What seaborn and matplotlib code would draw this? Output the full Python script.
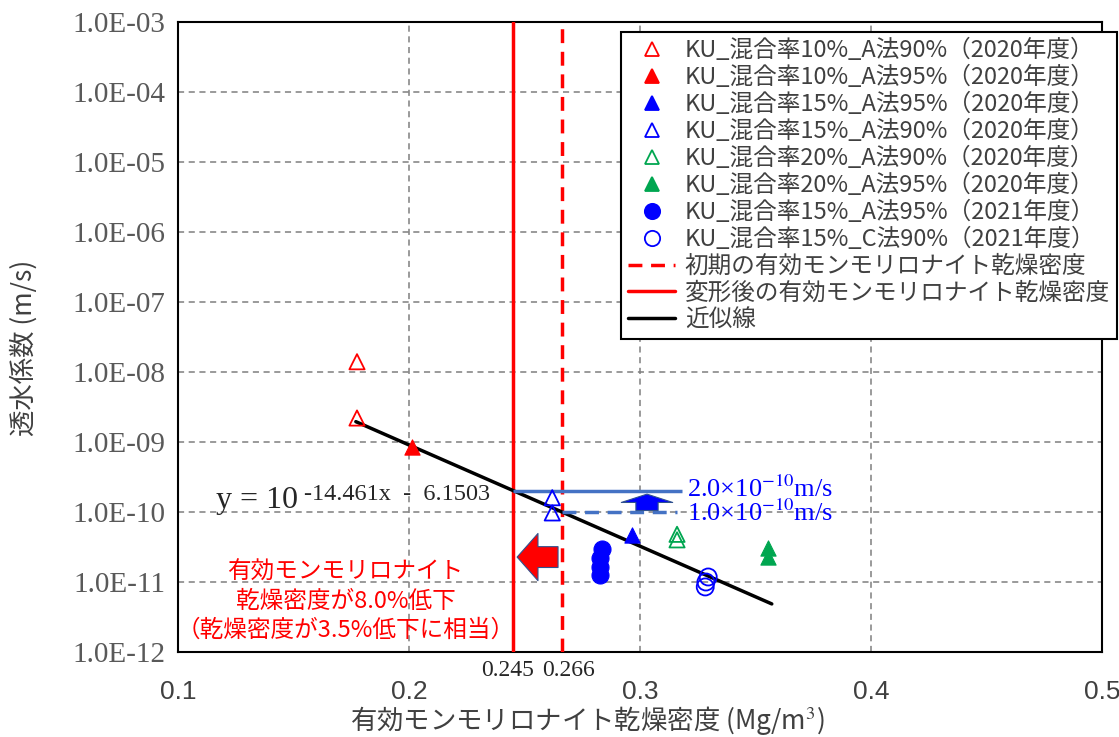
import numpy as np
import pandas as pd
import matplotlib
matplotlib.use("Agg")
import matplotlib.pyplot as plt
import matplotlib.ticker as mticker
import seaborn as sns

# --- data ---
red_open_x = [0.1775, 0.1775]
red_open_y = [1.4e-8, 2.2e-9]
red_fill_x = [0.2013]
red_fill_y = [8.5e-10]
blue_tri_fill_x = [0.2965]
blue_tri_fill_y = [4.7e-11]
blue_tri_open_x = [0.262, 0.262]
blue_tri_open_y = [1.6e-10, 9.7e-11]
green_open_x = [0.316, 0.316]
green_open_y = [4.8e-11, 4.0e-11]
green_fill_x = [0.3555, 0.3555]
green_fill_y = [3.1e-11, 2.3e-11]
blue_circ_fill_x = [0.2835, 0.2828, 0.2825, 0.2828]
blue_circ_fill_y = [3.0e-11, 2.2e-11, 1.65e-11, 1.27e-11]
blue_circ_open_x = [0.3295, 0.3285, 0.3282]
blue_circ_open_y = [1.18e-11, 1.0e-11, 8.5e-12]

labels = [
    "KU_混合率10%_A法90%（2020年度）",
    "KU_混合率10%_A法95%（2020年度）",
    "KU_混合率15%_A法95%（2020年度）",
    "KU_混合率15%_A法90%（2020年度）",
    "KU_混合率20%_A法90%（2020年度）",
    "KU_混合率20%_A法95%（2020年度）",
    "KU_混合率15%_A法95%（2021年度）",
    "KU_混合率15%_C法90%（2021年度）",
]

rho_initial = 0.266
rho_deformed = 0.245
k_upper = 2.0e-10
k_lower = 1.0e-10
fit_a, fit_b = -14.461, -6.1503
fit_x = [0.177, 0.357]

RED = "#FF0000"
BLUE = "#0000FF"
GREEN = "#00A650"
LBLUE = "#4472C4"
SERIF = "Liberation Serif"

series = [
    (red_open_x, red_open_y, "^", RED, False),
    (red_fill_x, red_fill_y, "^", RED, True),
    (blue_tri_fill_x, blue_tri_fill_y, "^", BLUE, True),
    (blue_tri_open_x, blue_tri_open_y, "^", BLUE, False),
    (green_open_x, green_open_y, "^", GREEN, False),
    (green_fill_x, green_fill_y, "^", GREEN, True),
    (blue_circ_fill_x, blue_circ_fill_y, "o", BLUE, True),
    (blue_circ_open_x, blue_circ_open_y, "o", BLUE, False),
]

sns.set_theme(style="white")
plt.rcParams["font.family"] = ["Noto Sans CJK JP", "DejaVu Sans"]
plt.rcParams["mathtext.fontset"] = "stix"

fig = plt.figure(figsize=(11.19, 7.37), dpi=100)
ax = fig.add_axes([0.159, 0.1153, 0.826, 0.855])

handles = []
for (xs, ys, mk, col, filled), lab in zip(series, labels):
    df = pd.DataFrame({"x": xs, "y": ys})
    size = 150 if mk == "o" else 120
    if filled:
        sns.scatterplot(data=df, x="x", y="y", ax=ax, marker=mk, s=size,
                        color=col, edgecolor=col, linewidth=0.8, zorder=5)
    else:
        sns.scatterplot(data=df, x="x", y="y", ax=ax, marker=mk, s=size,
                        facecolor="none", edgecolor=col, linewidth=1.3, zorder=5)
    h = plt.Line2D([], [], ls="none", marker=mk, markersize=11 if mk == "o" else 10,
                   markerfacecolor=col if filled else "none", markeredgecolor=col,
                   markeredgewidth=1.3)
    handles.append(h)

# density lines
ax.axvline(rho_initial, color=RED, lw=2.5, ls=(0, (4, 2.5)), zorder=3)
ax.axvline(rho_deformed, color=RED, lw=2.5, zorder=3)

# fit line
fit_df = pd.DataFrame({"x": fit_x})
fit_df["y"] = 10 ** (fit_a * fit_df["x"] + fit_b)
sns.lineplot(data=fit_df, x="x", y="y", ax=ax, color="black", lw=2.5, zorder=4)
handles += [plt.Line2D([], [], color=RED, lw=2.5, ls=(0, (4, 2.5))),
            plt.Line2D([], [], color=RED, lw=2.5),
            plt.Line2D([], [], color="black", lw=2.5)]
labels_all = labels + ["初期の有効モンモリロナイト乾燥密度",
                       "変形後の有効モンモリロナイト乾燥密度", "近似線"]

# permeability criteria
ax.hlines(k_upper, rho_deformed, 0.318, color=LBLUE, lw=2.5, zorder=4)
ax.hlines(k_lower, rho_initial, 0.316, color=LBLUE, lw=2.5, ls=(0, (4, 2.5)), zorder=4)
ax.text(0.3205, k_upper * 1.07, "2.0×10$^{-10}$m/s", color=BLUE, fontsize=19,
        family=SERIF, va="center", ha="left")
ax.text(0.3205, k_lower * 0.97, "1.0×10$^{-10}$m/s", color=BLUE, fontsize=19,
        family=SERIF, va="center", ha="left")

# arrows
ax.annotate("", xy=(0.2468, 2.27e-11), xytext=(0.2645, 2.27e-11),
            arrowprops=dict(arrowstyle="simple,head_length=1.5,head_width=3.4,tail_width=1.5",
                            fc=RED, ec="#2F528F", lw=0.8, mutation_scale=10,
                            shrinkA=0, shrinkB=0), zorder=6)
ax.annotate("", xy=(0.303, 1.8e-10), xytext=(0.303, 1.05e-10),
            arrowprops=dict(arrowstyle="simple,head_length=0.6,head_width=3.7,tail_width=1.6",
                            fc=BLUE, ec="#2F528F", lw=0.8, mutation_scale=10,
                            shrinkA=0, shrinkB=0), zorder=6)

# equation
ax.text(0.1163, 1.14e-10, "y = 10", fontsize=23, family=SERIF, color="#262626",
        va="baseline", ha="left")
ax.text(0.1545, 1.48e-10, "-14.461x  -  6.1503", fontsize=17.5, family=SERIF,
        color="#262626", va="baseline", ha="left")

# red note
ax.text(0.1725, 5.3e-12, "有効モンモリロナイト\n乾燥密度が8.0%低下\n（乾燥密度が3.5%低下に相当）",
        color=RED, fontsize=17, ha="center", va="center", linespacing=1.33)

# density values under axis
ax.text(0.1 + (534 - 178) / 2310, -0.012, "0.245", transform=ax.get_xaxis_transform(),
        fontsize=17, family=SERIF, color="#262626", ha="right", va="top")
ax.text(0.1 + (542 - 178) / 2310, -0.012, "0.266", transform=ax.get_xaxis_transform(),
        fontsize=17, family=SERIF, color="#262626", ha="left", va="top")

# axes formatting
ax.set_yscale("log")
ax.set_xlim(0.1, 0.5)
ax.set_ylim(1e-12, 1e-3)
ax.xaxis.set_major_locator(mticker.MultipleLocator(0.1))
ax.xaxis.set_minor_locator(mticker.MultipleLocator(0.02))
ax.xaxis.set_major_formatter(mticker.FormatStrFormatter("%.1f"))
ax.yaxis.set_major_locator(mticker.LogLocator(base=10, numticks=20))
ax.yaxis.set_minor_locator(mticker.LogLocator(base=10, subs=np.arange(2, 10), numticks=20))
ax.yaxis.set_minor_formatter(mticker.NullFormatter())
ax.yaxis.set_major_formatter(mticker.FuncFormatter(
    lambda v, p: "1.0E-%02d" % int(round(-np.log10(v)))))

ax.tick_params(axis="both", which="both", direction="in", colors="black")
ax.tick_params(axis="both", which="major", length=7, width=1.2)
ax.tick_params(axis="both", which="minor", length=4, width=1.0)
ax.tick_params(axis="y", which="major", pad=9, labelcolor="#595959", labelsize=21)
ax.tick_params(axis="x", which="major", pad=20, labelcolor="#404040", labelsize=19)
for t in ax.get_yticklabels():
    t.set_family(SERIF)
for t in ax.get_xticklabels():
    t.set_family("Liberation Sans")

ax.grid(True, which="major", ls=(0, (4, 3)), color="#7F7F7F", lw=1.1)
for s in ax.spines.values():
    s.set_color("black")
    s.set_linewidth(1.5)

ax.set_xlabel("有効モンモリロナイト乾燥密度 (Mg/m$^3$)", fontsize=19, color="#404040")
ax.xaxis.set_label_coords(0.443, -0.083)
ax.set_ylabel("透水係数 (m/s)", fontsize=19, color="#404040")
ax.yaxis.set_label_coords(-0.152, 0.483)

leg = ax.legend(handles, labels_all, loc="upper right",
                bbox_to_anchor=(1117 / 1119, 1 - 32 / 737), bbox_transform=fig.transFigure,
                fontsize=17, frameon=True, fancybox=False, framealpha=1,
                edgecolor="black", borderaxespad=0, labelspacing=0.16,
                handlelength=2.0, handletextpad=0.4, borderpad=0.3)
leg.get_frame().set_linewidth(1.5)
for t in leg.get_texts():
    t.set_color("#404040")
leg.set_zorder(10)

fig.savefig("out.png", dpi=100)
